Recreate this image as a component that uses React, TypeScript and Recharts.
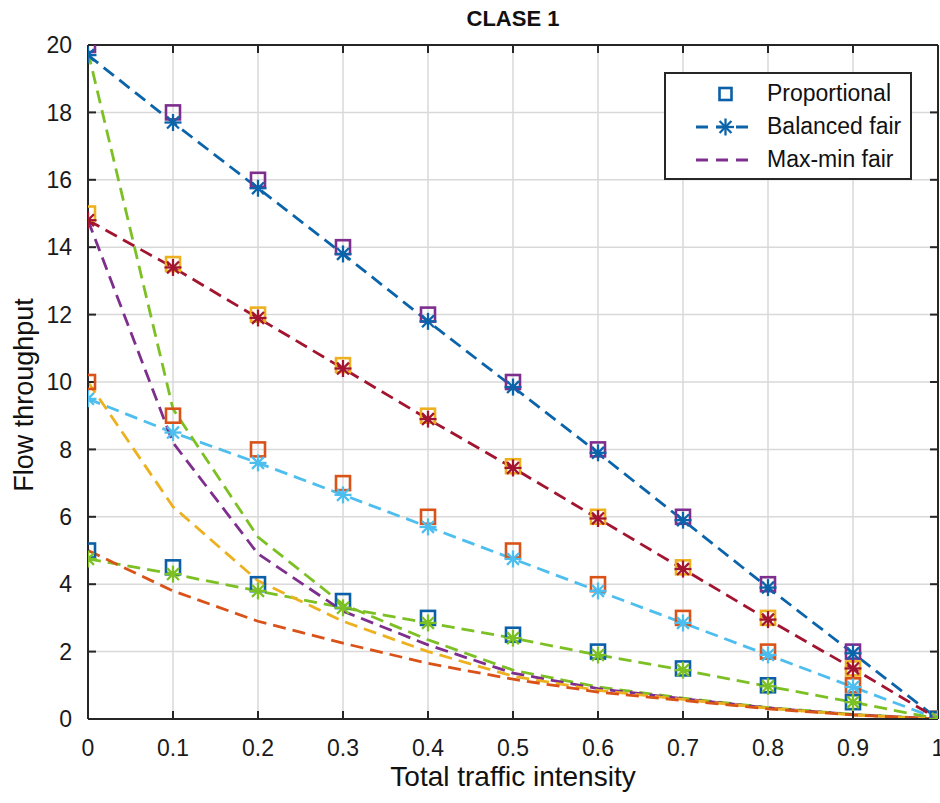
import { CartesianGrid, Legend, Line, LineChart, XAxis, YAxis } from 'recharts'

const FONT = '"Liberation Sans", Arial, Helvetica, sans-serif'
const AXIS_COLOR = '#262626'

const INTENSITY = [0, 0.1, 0.2, 0.3, 0.4, 0.5, 0.6, 0.7, 0.8, 0.9, 1]
const X_TICKS = [0, 0.1, 0.2, 0.3, 0.4, 0.5, 0.6, 0.7, 0.8, 0.9, 1]
const Y_TICKS = [0, 2, 4, 6, 8, 10, 12, 14, 16, 18, 20]

// Proportional (squares, no line)
const PROP_20 = [20, 18, 16, 14, 12, 10, 8, 6, 4, 2, 0]
const PROP_15 = [15, 13.5, 12, 10.5, 9, 7.5, 6, 4.5, 3, 1.5, 0]
const PROP_10 = [10, 9, 8, 7, 6, 5, 4, 3, 2, 1, 0]
const PROP_5 = [5, 4.5, 4, 3.5, 3, 2.5, 2, 1.5, 1, 0.5, 0]

// Balanced fair (dashed + stars)
const BAL_20 = [19.7, 17.7, 15.75, 13.8, 11.8, 9.85, 7.9, 5.9, 3.9, 1.95, 0]
const BAL_15 = [14.8, 13.4, 11.9, 10.4, 8.9, 7.45, 5.95, 4.45, 2.95, 1.5, 0]
const BAL_10 = [9.5, 8.5, 7.6, 6.65, 5.7, 4.75, 3.8, 2.85, 1.9, 0.95, 0]
const BAL_5 = [4.75, 4.3, 3.8, 3.3, 2.85, 2.4, 1.9, 1.45, 0.97, 0.5, 0]

// Max-min fair (dashed only)
const MM_20 = [19.8, 9.2, 5.4, 3.4, 2.35, 1.45, 0.95, 0.62, 0.34, 0.14, 0]
const MM_15 = [14.8, 8.2, 4.9, 3.2, 2.2, 1.36, 0.9, 0.6, 0.33, 0.13, 0]
const MM_10 = [10, 6.3, 4.1, 2.9, 2.0, 1.27, 0.85, 0.58, 0.32, 0.12, 0]
const MM_5 = [5, 3.8, 2.9, 2.25, 1.65, 1.18, 0.8, 0.55, 0.3, 0.12, 0]

type Series = { key: string; values: number[]; color: string }

const PROPORTIONAL: Series[] = [
  { key: 'prop20', values: PROP_20, color: '#7E2F8E' },
  { key: 'prop15', values: PROP_15, color: '#EDB120' },
  { key: 'prop10', values: PROP_10, color: '#D95319' },
  { key: 'prop5', values: PROP_5, color: '#0b5fa8' },
]

const BALANCED: Series[] = [
  { key: 'bal20', values: BAL_20, color: '#0b64aa' },
  { key: 'bal15', values: BAL_15, color: '#A2142F' },
  { key: 'bal10', values: BAL_10, color: '#4DBEEE' },
  { key: 'bal5', values: BAL_5, color: '#7cc024' },
]

const MAXMIN: Series[] = [
  { key: 'mm20', values: MM_20, color: '#7cc024' },
  { key: 'mm15', values: MM_15, color: '#7E2F8E' },
  { key: 'mm10', values: MM_10, color: '#EDB120' },
  { key: 'mm5', values: MM_5, color: '#D95319' },
]

const ALL = [...PROPORTIONAL, ...BALANCED, ...MAXMIN]

const data = INTENSITY.map((x, i) => {
  const row: Record<string, number> = { x }
  ALL.forEach((s) => {
    row[s.key] = s.values[i]
  })
  return row
})

const DASH = '13 7'
const LINE_WIDTH = 2.8

function squareDot(color: string, name: string) {
  return (props: any) => {
    const { cx, cy, index } = props
    if (cx == null || cy == null) return <g key={`${name}-${index}`} />
    return (
      <rect
        key={`${name}-${index}`}
        x={cx - 7}
        y={cy - 7}
        width={14}
        height={14}
        fill="none"
        stroke={color}
        strokeWidth={2.6}
      />
    )
  }
}

function StarShape({ cx, cy, color }: { cx: number; cy: number; color: string }) {
  const r = 8.5
  const d = r * 0.7
  return (
    <g stroke={color} strokeWidth={2.3} fill="none">
      <line x1={cx - r} y1={cy} x2={cx + r} y2={cy} />
      <line x1={cx} y1={cy - r} x2={cx} y2={cy + r} />
      <line x1={cx - d} y1={cy - d} x2={cx + d} y2={cy + d} />
      <line x1={cx - d} y1={cy + d} x2={cx + d} y2={cy - d} />
    </g>
  )
}

function starDot(color: string, name: string) {
  return (props: any) => {
    const { cx, cy, index } = props
    if (cx == null || cy == null) return <g key={`${name}-${index}`} />
    return <StarShape key={`${name}-${index}`} cx={cx} cy={cy} color={color} />
  }
}

function LegendBox() {
  const rows = [
    { label: 'Proportional', kind: 'square', color: PROPORTIONAL[3].color },
    { label: 'Balanced fair', kind: 'star', color: BALANCED[0].color },
    { label: 'Max-min fair', kind: 'dash', color: MAXMIN[1].color },
  ]
  return (
    <div
      style={{
        width: 244,
        height: 104,
        border: `2px solid ${AXIS_COLOR}`,
        background: '#fff',
        fontFamily: FONT,
        fontSize: 23,
        color: '#111',
        boxSizing: 'content-box',
        textAlign: 'left',
      }}
    >
      {rows.map((r, i) => (
        <div key={r.label} style={{ position: 'relative', height: 33, marginTop: i === 0 ? 4 : 0 }}>
          <svg width={64} height={33} style={{ position: 'absolute', left: 28, top: 0 }}>
            {r.kind === 'square' && (
              <rect x={25.5} y={10} width={12} height={12} fill="none" stroke={r.color} strokeWidth={2.6} />
            )}
            {r.kind !== 'square' && (
              <line x1={2} y1={16} x2={62} y2={16} stroke={r.color} strokeWidth={LINE_WIDTH} strokeDasharray="12 8" />
            )}
            {r.kind === 'star' && <StarShape cx={31.5} cy={16} color={r.color} />}
          </svg>
          <span style={{ position: 'absolute', left: 101, top: 2, whiteSpace: 'nowrap' }}>{r.label}</span>
        </div>
      ))}
    </div>
  )
}

export default function App() {
  const tickStyle = { fontSize: 23, fill: '#1a1a1a', fontFamily: FONT }
  return (
    <div style={{ position: 'absolute', left: 0, top: 0, width: 940, height: 803, background: '#fff', fontFamily: FONT }}>
      <div
        style={{
          position: 'absolute',
          left: 0,
          width: 1026,
          top: 6,
          textAlign: 'center',
          fontWeight: 'bold',
          fontSize: 22,
          color: '#111',
        }}
      >
        CLASE 1
      </div>
      <div
        style={{
          position: 'absolute',
          left: 24,
          top: 395,
          transform: 'translate(-50%, -50%) rotate(-90deg)',
          fontSize: 27,
          whiteSpace: 'nowrap',
          color: '#111',
        }}
      >
        Flow throughput
      </div>
      <div
        style={{
          position: 'absolute',
          left: 0,
          width: 1026,
          top: 761,
          textAlign: 'center',
          fontSize: 28,
          color: '#111',
        }}
      >
        Total traffic intensity
      </div>
      <LineChart width={940} height={803} data={data} margin={{ top: 44, right: 1, bottom: 40, left: 28 }}>
        <CartesianGrid stroke="#d9d9d9" strokeWidth={1.5} horizontalValues={Y_TICKS} verticalValues={X_TICKS} />
        <XAxis
          dataKey="x"
          type="number"
          domain={[0, 1]}
          ticks={X_TICKS}
          height={44}
          interval={0}
          tickSize={-8}
          tickMargin={29}
          tick={tickStyle}
          axisLine={{ stroke: AXIS_COLOR, strokeWidth: 2 }}
          tickLine={{ stroke: AXIS_COLOR, strokeWidth: 2 }}
          allowDataOverflow
        />
        <XAxis
          xAxisId="top"
          orientation="top"
          dataKey="x"
          type="number"
          domain={[0, 1]}
          ticks={X_TICKS}
          height={1}
          interval={0}
          tickSize={-8}
          tickFormatter={() => ''}
          axisLine={{ stroke: AXIS_COLOR, strokeWidth: 2 }}
          tickLine={{ stroke: AXIS_COLOR, strokeWidth: 2 }}
          allowDataOverflow
        />
        <YAxis
          type="number"
          domain={[0, 20]}
          ticks={Y_TICKS}
          width={60}
          interval={0}
          tickSize={-8}
          tickMargin={24}
          tick={tickStyle}
          axisLine={{ stroke: AXIS_COLOR, strokeWidth: 2 }}
          tickLine={{ stroke: AXIS_COLOR, strokeWidth: 2 }}
          allowDataOverflow
        />
        <YAxis
          yAxisId="right"
          orientation="right"
          type="number"
          domain={[0, 20]}
          ticks={Y_TICKS}
          width={1}
          interval={0}
          tickSize={-8}
          tickFormatter={() => ''}
          axisLine={{ stroke: AXIS_COLOR, strokeWidth: 2 }}
          tickLine={{ stroke: AXIS_COLOR, strokeWidth: 2 }}
          allowDataOverflow
        />
        <Legend
          layout="horizontal"
          verticalAlign="middle"
          align="center"
          wrapperStyle={{ left: 664, top: 72, width: 248, height: 108, right: 'auto', bottom: 'auto' }}
          content={() => <LegendBox />}
        />
        {PROPORTIONAL.map((s) => (
          <Line
            key={s.key}
            dataKey={s.key}
            stroke="none"
            dot={squareDot(s.color, s.key)}
            activeDot={false}
            legendType="none"
            isAnimationActive={false}
          />
        ))}
        {BALANCED.map((s) => (
          <Line
            key={s.key}
            dataKey={s.key}
            type="linear"
            stroke={s.color}
            strokeWidth={LINE_WIDTH}
            strokeDasharray={DASH}
            dot={starDot(s.color, s.key)}
            activeDot={false}
            legendType="none"
            isAnimationActive={false}
          />
        ))}
        {MAXMIN.map((s) => (
          <Line
            key={s.key}
            dataKey={s.key}
            type="linear"
            stroke={s.color}
            strokeWidth={LINE_WIDTH}
            strokeDasharray={DASH}
            dot={false}
            activeDot={false}
            legendType="none"
            isAnimationActive={false}
          />
        ))}
      </LineChart>
    </div>
  )
}
